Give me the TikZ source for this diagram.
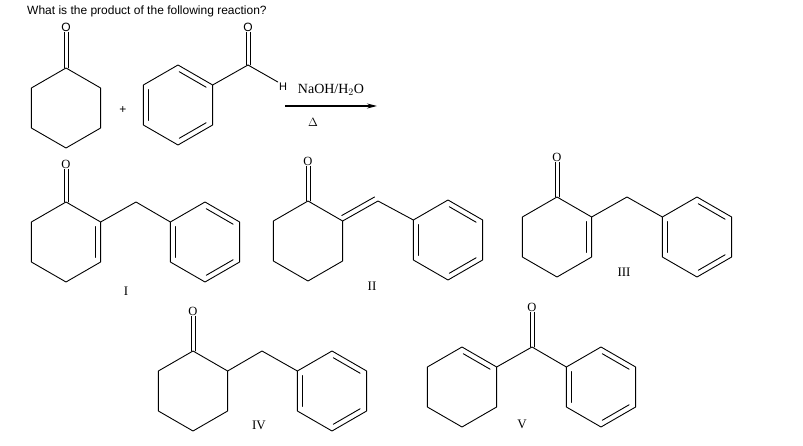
\documentclass[tikz,border=0pt]{standalone}
\usepackage{fontspec}
\setmainfont{Liberation Serif}
\newfontfamily\arial{Liberation Sans}
\usetikzlibrary{calc,arrows.meta}
\tikzset{bond/.style={line width=0.9pt,line cap=round,line join=round},
  atom/.style={inner sep=1pt,font=\fontsize{12.5}{12.5}\selectfont},
  satom/.style={inner sep=1pt,font=\arial\fontsize{12}{12}\selectfont},
  lbl/.style={inner sep=0pt,font=\fontsize{13}{13}\selectfont}}
\newcommand\hexring[3]{%
  \coordinate (#1c) at (#2,#3);
  \foreach \i/\a in {1/-90,2/-30,3/30,4/90,5/150,6/210}{\coordinate (#1\i) at ($(#2,#3)+(\a:40)$);}
  \draw[bond] (#11)--(#12)--(#13)--(#14)--(#15)--(#16)--cycle;}
\newcommand\inner[3]{\draw[bond,shorten <=1.5pt,shorten >=1.5pt] ($(#1#2)!.15!(#1c)$) -- ($(#1#3)!.15!(#1c)$);}
\newcommand\benz[1]{\inner{#1}{1}{2}\inner{#1}{5}{6}\inner{#1}{3}{4}}
\newcommand\carbonyl[2]{%
  \draw[bond] ($(#1)+(-2,0)$) -- ($(#2.south)+(-2,0)$);
  \draw[bond] ($(#1)+(2,0)$) -- ($(#2.south)+(2,0)$);}
\begin{document}
\begin{tikzpicture}[x=1pt,y=-1pt]
\useasboundingbox (0,0) rectangle (803,446);
\node[anchor=west,inner sep=0pt,font=\arial\fontsize{12}{12}\selectfont] (title) at (27,11) {What is the product of the following reaction?};
% cyclohexanone
\hexring{a}{66}{108}
\node[satom] (Oa) at (66,27) {O};
\carbonyl{a1}{Oa}
\node[inner sep=0pt,font=\arial\fontsize{12}{12}\selectfont] (plus) at (123,110) {+};
% benzaldehyde
\hexring{b}{178}{105}
\benz{b}
\coordinate (bC) at (248,65);
\draw[bond] (b2) -- (bC);
\node[satom] (Ob) at (248,27) {O};
\carbonyl{bC}{Ob}
\node[satom,font=\arial\fontsize{11}{11}\selectfont] (H) at (283,87) {H};
\draw[bond] (bC) -- (H.north west);
% arrow
\coordinate (ar1) at (285,106);
\coordinate (ar2) at (377,106);
\draw[line width=1.3pt,-{Stealth[length=10pt,width=5pt]}] (ar1) -- (ar2);
\node[lbl,font=\fontsize{14}{14}\selectfont] (reag) at (331,90) {NaOH/H$_2$O};
\node[lbl] (heat) at (313,122) {$\Delta$};
% I
\hexring{p}{66}{242}
\inner{p}{2}{3}
\node[atom] (Op) at (66,164) {O};
\carbonyl{p1}{Op}
\coordinate (pC) at (136,202);
\hexring{q}{205}{242}
\benz{q}
\draw[bond] (p2) -- (pC) -- (q6);
\node[lbl] (L1) at (126,291) {I};
% II
\hexring{r}{308}{241}
\node[atom] (Or) at (308,161) {O};
\carbonyl{r1}{Or}
\coordinate (rC) at (378,201);
\hexring{s}{448}{240}
\benz{s}
\draw[bond] (r2) -- (rC) -- (s6);
\draw[bond,shorten <=2pt,shorten >=1pt] ($(r2)+(-2.6,-4.5)$) -- ($(rC)+(-2.6,-4.5)$);
\node[lbl] (L2) at (372,286) {II};
% III
\hexring{t}{557}{237}
\inner{t}{2}{3}
\node[atom] (Ot) at (557,157) {O};
\carbonyl{t1}{Ot}
\coordinate (tC) at (627,197);
\hexring{u}{697}{237}
\benz{u}
\draw[bond] (t2) -- (tC) -- (u6);
\node[lbl] (L3) at (624,272) {III};
% IV
\hexring{v}{193}{391}
\node[atom] (Ov) at (193,311) {O};
\carbonyl{v1}{Ov}
\coordinate (vC) at (262,351);
\hexring{w}{332}{391}
\benz{w}
\draw[bond] (v2) -- (vC) -- (w6);
\node[lbl] (L4) at (259,425) {IV};
% V
\hexring{x}{462}{387}
\inner{x}{1}{2}
\coordinate (xC) at (532,347);
\node[atom] (Ox) at (532,307) {O};
\carbonyl{xC}{Ox}
\hexring{y}{601}{387}
\benz{y}
\draw[bond] (x2) -- (xC) -- (y6);
\node[lbl] (L5) at (522,424) {V};
\end{tikzpicture}
\end{document}
